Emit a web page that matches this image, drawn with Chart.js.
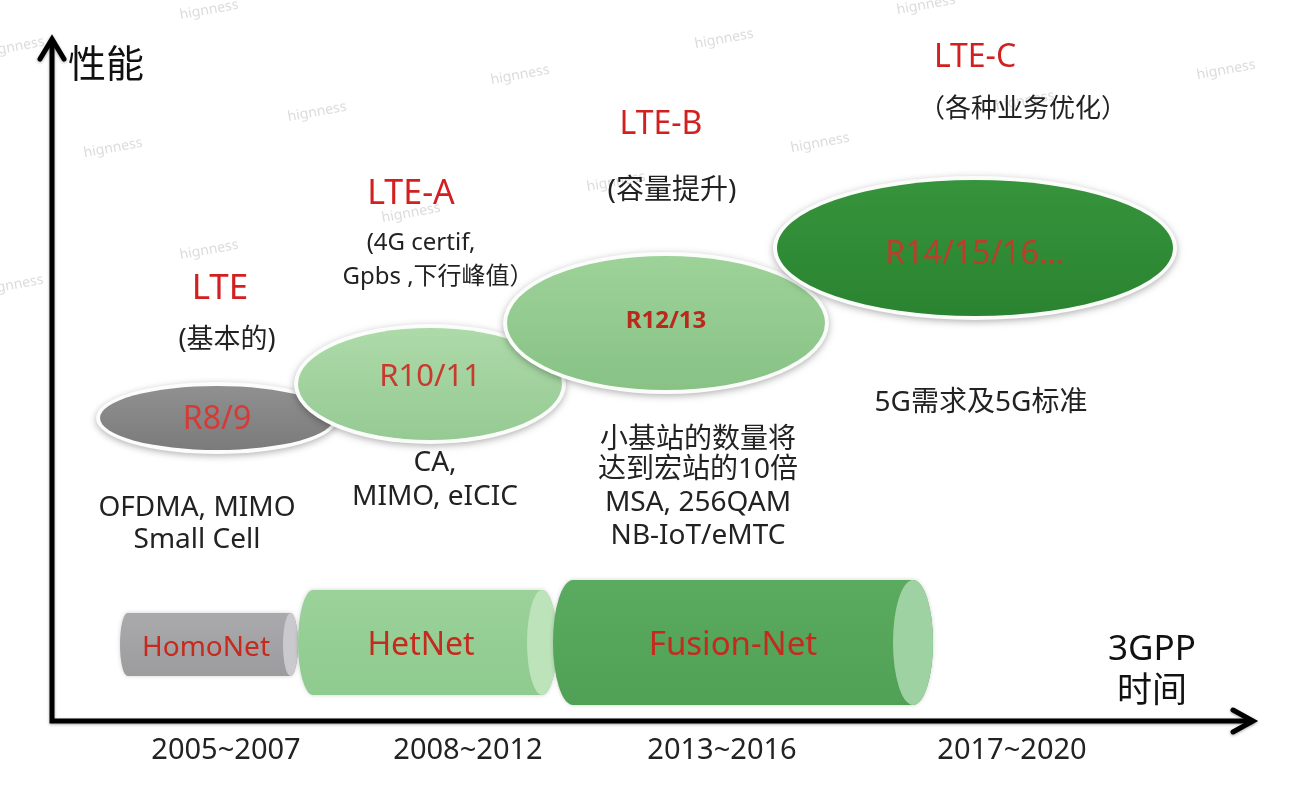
<!DOCTYPE html>
<html lang="zh">
<head>
    <meta charset="UTF-8">
    <title>LTE 演进</title>
    <script src="https://cdn.jsdelivr.net/npm/chart.js"></script>
    <style>
        * { margin: 0; padding: 0; }
        body { background: #fff; }
        #wrap { position: relative; width: 1294px; height: 787px; }
    </style>
</head>
<body>
<div id="wrap"><canvas id="chart"></canvas></div>
<script>
// x = 3GPP 时间 (0 at the axis origin), y = 性能 (0 at the axis origin)
const periods = ['2005~2007', '2008~2012', '2013~2016', '2017~2020'];
const periodX = [17.6, 41.8, 67.2, 96.2];

const releases = ['R8/9', 'R10/11', 'R12/13', 'R14/15/16...'];
const releaseX = [16.7, 38.0, 61.6, 92.5];
const releaseY = [30.3, 33.7, 39.8, 47.3];
const releaseRx = [11.7, 13.2, 15.9, 19.8];
const releaseRy = [3.2, 5.6, 6.7, 6.8];
const releaseTextY = [30.1, 34.4, 40.0, 46.6];

const stages = ['LTE', 'LTE-A', 'LTE-B', 'LTE-C'];
const stageX = [17.0, 36.1, 61.1, 92.5];
const stageY = [43.2, 52.7, 59.6, 66.3];

const notes = ['(基本的)', '(4G certif,', 'Gpbs ,下行峰值）', '(容量提升)', '（各种业务优化）'];
const noteX = [17.7, 37.1, 38.8, 62.2, 97.3];
const noteY = [38.1, 47.8, 44.4, 53.0, 61.1];

const features = ['OFDMA, MIMO', 'Small Cell', 'CA,', 'MIMO, eICIC',
    '小基站的数量将', '达到宏站的10倍', 'MSA, 256QAM', 'NB-IoT/eMTC', '5G需求及5G标准'];
const featureX = [14.7, 14.7, 38.5, 38.5, 64.8, 64.8, 64.8, 64.8, 93.1];
const featureY = [21.3, 18.1, 25.8, 22.4, 28.1, 25.1, 21.8, 18.5, 31.8];

const nets = ['HomoNet', 'HetNet', 'Fusion-Net'];
const netStart = [7.0, 24.8, 50.3];
const netEnd = [24.8, 50.7, 88.3];
const netY = [7.65, 7.85, 7.85];
const netHalf = [3.15, 5.25, 6.25];
const netCap = [0.75, 1.5, 2.0];
const netTextX = [15.6, 37.1, 68.3];
const netTextY = [7.3, 7.5, 7.5];

const axisEndX = 120.5;
const axisEndY = 68.4;

const wmX = [15.9, -3.5, 47.0, 26.7, 6.3, 67.4, 87.6, 117.6, 77.0, 15.9, -3.6, 36.1, 56.6, 97.5];
const wmY = [71.1, 67.4, 64.6, 60.9, 57.3, 68.2, 71.6, 65.1, 57.8, 47.1, 43.6, 50.8, 53.9, 62.0];

// styles
const FONT = '"Noto Sans", "Noto Sans CJK SC", sans-serif';
const releaseFill = [['#909090', '#7b7b7b'], ['#addaa9', '#96ca93'], ['#9dd299', '#88c285'], ['#36943c', '#2a8330']];
const releaseText = ['#d63a36', '#c93a2e', '#b92a1c', '#b8402a'];
const releaseFont = ['32px', '31px', 'bold 24px', '32px'];
const stageFont = ['35px', '34px', '32px', '32px'];
const noteFont = ['27px', '24px', '24px', '28px', '26px'];
const netFont = ['28px', '32px', '33px'];
const netFill = [['#aaaaac', '#9c9c9e'], ['#9bd29a', '#8fca8e'], ['#5aab60', '#50a056']];
const netCapFill = ['#c9c9ce', '#bce3b9', '#9fd2a2'];

function P(chart, x, y) {
    return [chart.scales.x.getPixelForValue(x), chart.scales.y.getPixelForValue(y)];
}

function txt(ctx, s, x, y, font, color, align) {
    ctx.font = font + ' ' + FONT;
    ctx.fillStyle = color;
    ctx.textAlign = align || 'center';
    ctx.textBaseline = 'middle';
    ctx.fillText(s, x, y);
}

const diagram = {
    id: 'diagram',
    beforeDatasetsDraw(chart) {
        const ctx = chart.ctx;
        const sx = chart.scales.x, sy = chart.scales.y;
        ctx.save();

        // watermark
        ctx.font = '14px ' + FONT;
        ctx.fillStyle = 'rgba(190,190,190,0.55)';
        ctx.textAlign = 'center';
        ctx.textBaseline = 'middle';
        wmX.forEach((x, i) => {
            const [px, py] = P(chart, x, wmY[i]);
            ctx.save();
            ctx.translate(px, py);
            ctx.rotate(-0.18);
            ctx.fillText('hignness', 0, 0);
            ctx.restore();
        });

        // release ellipses
        releases.forEach((r, i) => {
            const [cx, cy] = P(chart, releaseX[i], releaseY[i]);
            const rx = Math.abs(sx.getPixelForValue(releaseX[i] + releaseRx[i]) - cx);
            const ry = Math.abs(sy.getPixelForValue(releaseY[i] + releaseRy[i]) - cy);
            ctx.save();
            ctx.shadowColor = 'rgba(0,0,0,0.3)';
            ctx.shadowBlur = 7;
            ctx.shadowOffsetY = 2;
            ctx.beginPath();
            ctx.ellipse(cx, cy, rx + 4, ry + 4, 0, 0, Math.PI * 2);
            ctx.fillStyle = '#fbfdfb';
            ctx.fill();
            ctx.restore();
            const g = ctx.createLinearGradient(0, cy - ry, 0, cy + ry);
            g.addColorStop(0, releaseFill[i][0]);
            g.addColorStop(1, releaseFill[i][1]);
            ctx.beginPath();
            ctx.ellipse(cx, cy, rx, ry, 0, 0, Math.PI * 2);
            ctx.fillStyle = g;
            ctx.fill();
        });

        // network cylinders
        nets.forEach((n, i) => {
            const [x0, yc] = P(chart, netStart[i], netY[i]);
            const x1 = sx.getPixelForValue(netEnd[i]);
            const h = Math.abs(sy.getPixelForValue(netY[i] + netHalf[i]) - yc);
            const c = Math.abs(sx.getPixelForValue(netStart[i] + netCap[i]) - x0);
            ctx.save();
            ctx.shadowColor = 'rgba(0,0,0,0.18)';
            ctx.shadowBlur = 4;
            const g = ctx.createLinearGradient(0, yc - h, 0, yc + h);
            g.addColorStop(0, netFill[i][0]);
            g.addColorStop(1, netFill[i][1]);
            ctx.beginPath();
            ctx.ellipse(x0 + c, yc, c, h, 0, Math.PI / 2, Math.PI * 1.5);
            ctx.lineTo(x1 - c, yc - h);
            ctx.ellipse(x1 - c, yc, c, h, 0, -Math.PI / 2, Math.PI / 2);
            ctx.closePath();
            ctx.fillStyle = g;
            ctx.fill();
            ctx.restore();
            ctx.beginPath();
            ctx.ellipse(x1 - c, yc, c, h, 0, 0, Math.PI * 2);
            ctx.fillStyle = netCapFill[i];
            ctx.fill();
        });

        // axes with open arrow heads
        const [ox, oy] = P(chart, 0, 0);
        const [, ty] = P(chart, 0, axisEndY);
        const [ex] = P(chart, axisEndX, 0);
        ctx.strokeStyle = '#000';
        ctx.lineWidth = 5;
        ctx.lineJoin = 'miter';
        ctx.lineCap = 'butt';
        ctx.shadowColor = 'rgba(0,0,0,0.35)';
        ctx.shadowBlur = 3;
        ctx.shadowOffsetY = 1;
        ctx.beginPath();
        ctx.moveTo(ox + 2, ty + 2);
        ctx.lineTo(ox + 2, oy);
        ctx.lineTo(ex - 2, oy);
        ctx.stroke();
        ctx.lineCap = 'round';
        ctx.beginPath();
        ctx.moveTo(ox - 10, ty + 22);
        ctx.lineTo(ox + 2, ty + 2);
        ctx.lineTo(ox + 14, ty + 22);
        ctx.moveTo(ex - 22, oy - 11);
        ctx.lineTo(ex - 2, oy);
        ctx.lineTo(ex - 22, oy + 11);
        ctx.stroke();
        ctx.restore();
    },
    afterDatasetsDraw(chart) {
        const ctx = chart.ctx;
        ctx.save();
        releases.forEach((r, i) => {
            const [x, y] = P(chart, releaseX[i], releaseTextY[i]);
            txt(ctx, r, x, y, releaseFont[i], releaseText[i]);
        });
        stages.forEach((s, i) => {
            const [x, y] = P(chart, stageX[i], stageY[i]);
            txt(ctx, s, x, y, stageFont[i], '#d21f1f');
        });
        notes.forEach((s, i) => {
            const [x, y] = P(chart, noteX[i], noteY[i]);
            txt(ctx, s, x, y, noteFont[i], '#222');
        });
        features.forEach((s, i) => {
            const [x, y] = P(chart, featureX[i], featureY[i]);
            txt(ctx, s, x, y, '28px', '#222');
        });
        nets.forEach((n, i) => {
            const [x, y] = P(chart, netTextX[i], netTextY[i]);
            txt(ctx, n, x, y, netFont[i], '#c42a1e');
        });
        periods.forEach((p, i) => {
            const [x, y] = P(chart, periodX[i], -3.0);
            txt(ctx, p, x, y, '29px', '#222');
        });
        let [x, y] = P(chart, 1.8, 65.5);
        txt(ctx, '性能', x, y, '38px', '#111', 'left');
        [x, y] = P(chart, 110.2, 7.1);
        txt(ctx, '3GPP', x, y, '35px', '#111');
        [x, y] = P(chart, 110.2, 2.9);
        txt(ctx, '时间', x, y, '35px', '#111');
        ctx.restore();
    }
};

new Chart(document.getElementById('chart'), {
    type: 'scatter',
    data: {
        datasets: [{
            label: 'releases',
            data: releaseX.map((x, i) => ({ x: x, y: releaseY[i] })),
            pointRadius: 0
        }]
    },
    options: {
        responsive: true,
        maintainAspectRatio: false,
        animation: false,
        layout: { padding: 0 },
        plugins: { legend: { display: false }, tooltip: { enabled: false } },
        scales: {
            x: { type: 'linear', display: false, min: -5, max: 124.4 },
            y: { type: 'linear', display: false, min: -6.6, max: 72.1 }
        }
    },
    plugins: [diagram]
});
</script>
</body>
</html>
